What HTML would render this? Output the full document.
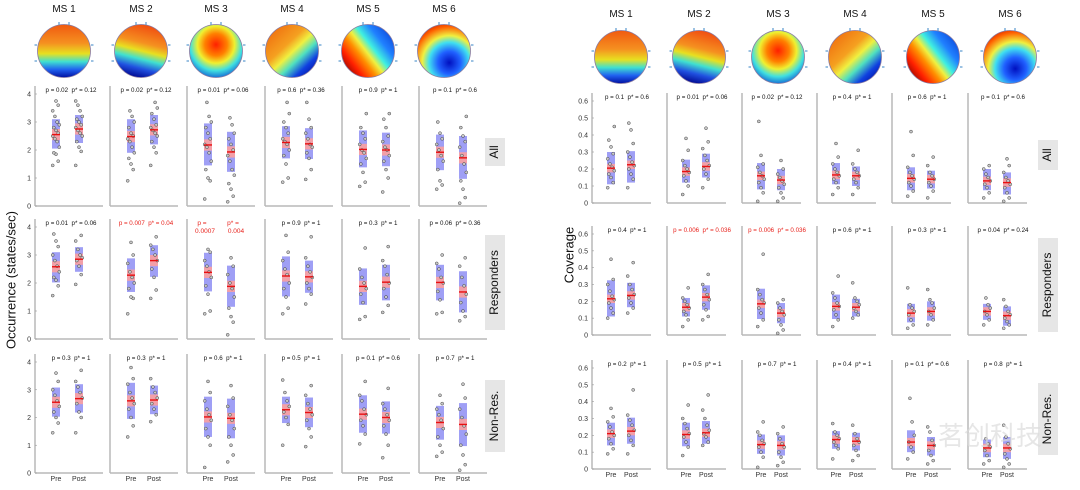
<!DOCTYPE html>
<html><head><meta charset="utf-8"><style>
html,body{margin:0;padding:0;background:#fff}
svg{display:block;font-family:"Liberation Sans","Noto Sans CJK SC",sans-serif}
</style></head><body>
<svg id="fig" width="1080" height="490" viewBox="0 0 1080 490" xmlns="http://www.w3.org/2000/svg">
<defs>
<linearGradient id="g1" x1="0" y1="0" x2="0" y2="1"><stop offset="0" stop-color="#f05a10"/><stop offset=".35" stop-color="#f59020"/><stop offset=".55" stop-color="#e8e020"/><stop offset=".7" stop-color="#40e0d0"/><stop offset=".85" stop-color="#2060f0"/><stop offset="1" stop-color="#0010a0"/></linearGradient>
<linearGradient id="g2" x1=".65" y1="0" x2=".4" y2="1"><stop offset="0" stop-color="#f04a10"/><stop offset=".35" stop-color="#f59020"/><stop offset=".5" stop-color="#e8e020"/><stop offset=".65" stop-color="#40e0d0"/><stop offset=".82" stop-color="#2050e0"/><stop offset="1" stop-color="#000890"/></linearGradient>
<radialGradient id="g3" cx=".5" cy=".38" r=".7"><stop offset="0" stop-color="#ff2000"/><stop offset=".3" stop-color="#ff8000"/><stop offset=".5" stop-color="#f0f030"/><stop offset=".7" stop-color="#40e0e0"/><stop offset="1" stop-color="#0030d0"/></radialGradient>
<linearGradient id="g4" x1=".1" y1=".1" x2=".9" y2=".95"><stop offset="0" stop-color="#f07010"/><stop offset=".35" stop-color="#f5a020"/><stop offset=".5" stop-color="#f0f040"/><stop offset=".65" stop-color="#50e0c0"/><stop offset=".82" stop-color="#1040e0"/><stop offset="1" stop-color="#0010a0"/></linearGradient>
<linearGradient id="g5" x1=".05" y1=".9" x2=".95" y2=".2"><stop offset="0" stop-color="#800000"/><stop offset=".2" stop-color="#ff2000"/><stop offset=".38" stop-color="#ff9000"/><stop offset=".5" stop-color="#f0f040"/><stop offset=".62" stop-color="#40f0e0"/><stop offset=".8" stop-color="#2080ff"/><stop offset="1" stop-color="#1050e0"/></linearGradient>
<radialGradient id="g6" cx=".6" cy=".72" r=".85"><stop offset="0" stop-color="#0010c0"/><stop offset=".25" stop-color="#2060ff"/><stop offset=".45" stop-color="#40e0f0"/><stop offset=".6" stop-color="#f0f040"/><stop offset=".8" stop-color="#ff6000"/><stop offset="1" stop-color="#c00000"/></radialGradient>
</defs>
<g id="root"></g>
</svg>
<script>
const msNames = ["MS 1","MS 2","MS 3","MS 4","MS 5","MS 6"];
const rowNames = ["All","Responders","Non-Res."];
const occMean = [[[2.55,2.75],[2.48,2.72],[2.18,1.93],[2.27,2.22],[2.02,2.0],[1.92,1.72]],
 [[2.58,2.85],[2.28,2.8],[2.38,1.88],[2.25,2.22],[1.88,2.03],[2.02,1.68]],
 [[2.55,2.68],[2.6,2.63],[2.02,1.97],[2.28,2.18],[2.12,2.0],[1.82,1.75]]];
const occLo = [[[2.05,2.25],[1.9,2.2],[1.45,1.22],[1.7,1.68],[1.38,1.42],[1.28,0.97]],
 [[2.02,2.4],[1.68,2.22],[1.7,1.15],[1.52,1.65],[1.22,1.38],[1.38,0.95]],
 [[2.03,2.18],[1.95,2.12],[1.3,1.25],[1.8,1.65],[1.45,1.42],[1.2,0.97]]];
const occHi = [[[3.1,3.25],[3.1,3.25],[2.95,2.65],[2.85,2.78],[2.7,2.62],[2.55,2.5]],
 [[3.1,3.28],[2.88,3.35],[3.08,2.62],[2.95,2.8],[2.52,2.65],[2.65,2.42]],
 [[3.08,3.2],[3.25,3.15],[2.75,2.68],[2.75,2.72],[2.8,2.58],[2.42,2.52]]];
const occPts = [
 [[[1.45,1.6,1.85,1.9,2.1,2.3,2.4,2.5,2.6,2.7,2.8,2.9,3.0,3.2,3.4,3.6,3.75],[1.45,1.95,2.1,2.3,2.5,2.6,2.7,2.8,2.9,3.0,3.1,3.2,3.4,3.6,3.75]],
  [[0.9,1.3,1.5,1.7,1.9,2.1,2.3,2.4,2.5,2.6,2.8,3.0,3.2,3.4],[1.45,1.9,2.1,2.3,2.5,2.6,2.7,2.8,2.9,3.1,3.3,3.5,3.7]],
  [[0.25,0.9,1.0,1.3,1.6,1.9,2.1,2.2,2.4,2.6,2.8,3.0,3.2,3.7],[0.15,0.35,0.6,0.8,1.1,1.3,1.6,1.8,2.0,2.2,2.4,2.6,2.9,3.15]],
  [[0.85,1.0,1.5,1.8,2.0,2.2,2.3,2.4,2.6,2.8,3.0,3.3,3.7],[0.95,1.3,1.7,1.9,2.1,2.2,2.4,2.6,2.8,3.1,3.7]],
  [[0.7,0.85,1.2,1.5,1.7,1.9,2.0,2.2,2.4,2.6,2.8,3.3],[0.5,1.0,1.3,1.6,1.8,2.0,2.1,2.3,2.5,2.8,3.1,3.3]],
  [[0.6,0.75,0.9,1.3,1.6,1.8,2.0,2.2,2.4,2.6,3.0],[0.1,0.3,0.6,0.9,1.2,1.5,1.8,2.1,2.3,2.5,2.8,3.2]]],
 [[[1.55,1.9,2.1,2.2,2.4,2.6,2.8,3.0,3.3,3.5,3.75],[1.95,2.3,2.6,2.8,2.9,3.0,3.2,3.5,3.7]],
  [[0.9,1.45,1.5,1.8,2.0,2.2,2.4,2.7,3.0,3.45],[1.45,1.75,2.2,2.5,2.8,3.0,3.2,3.35,3.65]],
  [[0.9,1.0,1.6,1.9,2.2,2.4,2.6,2.8,3.1,3.2],[0.15,0.6,0.8,1.1,1.5,1.8,2.0,2.3,2.6,2.9]],
  [[0.9,1.1,1.5,1.8,2.0,2.3,2.5,2.8,3.1,3.7],[1.25,1.6,1.8,2.0,2.2,2.4,2.6,2.9,3.65]],
  [[0.7,0.8,1.3,1.6,1.8,2.0,2.2,2.5,3.25],[0.95,1.2,1.5,1.8,2.0,2.3,2.6,2.8,3.3]],
  [[0.9,0.95,1.4,1.7,2.0,2.2,2.5,2.7,3.0],[0.65,0.8,1.0,1.3,1.6,1.9,2.2,2.6,2.9]]],
 [[[1.45,1.8,2.0,2.2,2.4,2.6,2.8,3.0,3.3,3.6],[1.45,2.0,2.2,2.5,2.7,2.9,3.1,3.3,3.7]],
  [[1.3,1.7,2.0,2.3,2.5,2.7,2.9,3.2,3.4,3.8],[1.85,2.1,2.3,2.5,2.7,2.9,3.1,3.4]],
  [[0.2,1.0,1.3,1.6,1.9,2.1,2.3,2.6,2.9,3.3],[0.4,0.65,1.0,1.3,1.6,1.9,2.1,2.4,2.7,3.15]],
  [[1.0,1.75,2.0,2.2,2.4,2.6,2.9,3.35],[0.95,1.3,1.6,1.9,2.1,2.3,2.5,2.8,3.15]],
  [[1.05,1.4,1.7,1.9,2.1,2.3,2.6,2.8,3.3],[0.55,1.0,1.4,1.7,1.9,2.1,2.3,2.5,3.05]],
  [[0.6,0.75,1.0,1.3,1.6,1.9,2.1,2.3,2.5,2.8],[0.1,0.3,0.65,1.0,1.4,1.7,2.0,2.3,2.7,3.2]]]];
const occP = [[["p = 0.02","p* = 0.12"],["p = 0.02","p* = 0.12"],["p = 0.01","p* = 0.06"],["p = 0.6","p* = 0.36"],["p = 0.9","p* = 1"],["p = 0.1","p* = 0.6"]],
 [["p = 0.01","p* = 0.06"],["p = 0.007","p* = 0.04"],["p =\n0.0007","p* =\n0.004"],["p = 0.9","p* = 1"],["p = 0.3","p* = 1"],["p = 0.06","p* = 0.36"]],
 [["p = 0.3","p* = 1"],["p = 0.3","p* = 1"],["p = 0.6","p* = 1"],["p = 0.5","p* = 1"],["p = 0.1","p* = 0.6"],["p = 0.7","p* = 1"]]];
const occSig = [[0,0,0,0,0,0],[0,1,1,0,0,0],[0,0,0,0,0,0]];
const covMean = [[[0.205,0.225],[0.185,0.215],[0.16,0.135],[0.165,0.16],[0.145,0.14],[0.13,0.12]],
 [[0.215,0.235],[0.165,0.225],[0.185,0.13],[0.17,0.165],[0.13,0.14],[0.14,0.115]],
 [[0.21,0.225],[0.205,0.215],[0.145,0.14],[0.175,0.165],[0.16,0.14],[0.125,0.125]]];
const covLo = [[[0.11,0.12],[0.12,0.15],[0.08,0.075],[0.11,0.1],[0.075,0.085],[0.075,0.05]],
 [[0.11,0.165],[0.11,0.15],[0.095,0.07],[0.095,0.11],[0.075,0.085],[0.09,0.055]],
 [[0.14,0.15],[0.135,0.15],[0.09,0.08],[0.12,0.11],[0.1,0.08],[0.07,0.06]]];
const covHi = [[[0.3,0.305],[0.255,0.29],[0.235,0.2],[0.235,0.215],[0.21,0.19],[0.2,0.18]],
 [[0.325,0.31],[0.22,0.295],[0.275,0.19],[0.24,0.215],[0.185,0.2],[0.185,0.17]],
 [[0.275,0.305],[0.275,0.285],[0.205,0.2],[0.225,0.215],[0.23,0.19],[0.175,0.19]]];
const covPts = [
 [[[0.09,0.12,0.15,0.17,0.19,0.21,0.23,0.26,0.29,0.33,0.37,0.45],[0.09,0.14,0.17,0.2,0.22,0.24,0.27,0.3,0.35,0.43,0.47]],
  [[0.05,0.1,0.13,0.16,0.18,0.2,0.22,0.25,0.31,0.38],[0.09,0.14,0.17,0.2,0.22,0.25,0.28,0.32,0.36,0.44]],
  [[0.01,0.06,0.09,0.12,0.14,0.16,0.18,0.21,0.23,0.28,0.48],[0.01,0.03,0.06,0.09,0.11,0.13,0.15,0.17,0.2,0.25]],
  [[0.05,0.09,0.12,0.14,0.16,0.18,0.2,0.23,0.27,0.35],[0.05,0.09,0.12,0.14,0.16,0.18,0.2,0.23,0.31]],
  [[0.04,0.07,0.1,0.12,0.14,0.16,0.18,0.21,0.28,0.42],[0.03,0.07,0.1,0.12,0.14,0.16,0.18,0.22,0.27]],
  [[0.03,0.06,0.09,0.11,0.13,0.15,0.17,0.2,0.22],[0.01,0.03,0.06,0.09,0.11,0.13,0.15,0.18,0.22,0.26]]],
 [[[0.1,0.13,0.16,0.19,0.21,0.23,0.26,0.3,0.33,0.45],[0.13,0.16,0.19,0.22,0.24,0.27,0.3,0.35,0.43]],
  [[0.05,0.09,0.12,0.14,0.16,0.18,0.2,0.22,0.28],[0.09,0.11,0.15,0.18,0.21,0.24,0.27,0.3,0.36]],
  [[0.05,0.09,0.13,0.16,0.19,0.21,0.24,0.27,0.48],[0.01,0.03,0.06,0.09,0.12,0.14,0.16,0.19,0.21]],
  [[0.05,0.09,0.12,0.15,0.17,0.19,0.22,0.25,0.35],[0.1,0.12,0.14,0.16,0.18,0.2,0.22,0.31]],
  [[0.04,0.06,0.09,0.12,0.14,0.16,0.18,0.28],[0.06,0.09,0.12,0.14,0.16,0.19,0.21,0.27]],
  [[0.06,0.09,0.12,0.14,0.16,0.18,0.22],[0.04,0.06,0.08,0.1,0.12,0.14,0.17,0.21]]],
 [[[0.09,0.12,0.15,0.18,0.2,0.22,0.25,0.28,0.31,0.36],[0.09,0.14,0.17,0.2,0.23,0.26,0.29,0.32,0.47]],
  [[0.08,0.13,0.16,0.19,0.21,0.24,0.27,0.3,0.38],[0.14,0.16,0.19,0.21,0.23,0.26,0.3,0.35,0.44]],
  [[0.01,0.07,0.1,0.13,0.15,0.17,0.2,0.22,0.28],[0.02,0.04,0.07,0.1,0.13,0.15,0.18,0.21,0.25]],
  [[0.06,0.12,0.14,0.16,0.18,0.2,0.22,0.27],[0.05,0.08,0.11,0.14,0.16,0.18,0.21,0.26]],
  [[0.06,0.1,0.13,0.16,0.2,0.28,0.42],[0.03,0.05,0.08,0.11,0.14,0.17,0.22,0.25]],
  [[0.03,0.05,0.08,0.11,0.13,0.15,0.18],[0.01,0.03,0.06,0.09,0.12,0.15,0.19,0.26]]]];
const covP = [[["p = 0.1","p* = 0.6"],["p = 0.01","p* = 0.06"],["p = 0.02","p* = 0.12"],["p = 0.4","p* = 1"],["p = 0.6","p* = 1"],["p = 0.1","p* = 0.6"]],
 [["p = 0.4","p* = 1"],["p = 0.006","p* = 0.036"],["p = 0.006","p* = 0.036"],["p = 0.6","p* = 1"],["p = 0.3","p* = 1"],["p = 0.04","p* = 0.24"]],
 [["p = 0.2","p* = 1"],["p = 0.5","p* = 1"],["p = 0.7","p* = 1"],["p = 0.4","p* = 1"],["p = 0.1","p* = 0.6"],["p = 0.8","p* = 1"]]];
const covSig = [[0,0,0,0,0,0],[0,1,1,0,0,0],[0,0,0,0,0,0]];
const occTicks = ["0","1","2","3","4"];
const covTicks = ["0","0.1","0.2","0.3","0.4","0.5","0.6"];

const NS="http://www.w3.org/2000/svg";
const root=document.getElementById('root');
function mk(tag,attrs,parent){const e=document.createElementNS(NS,tag);for(const k in attrs)e.setAttribute(k,attrs[k]);(parent||root).appendChild(e);return e;}
function txt(x,y,s,size,parent,extra){const t=mk('text',Object.assign({x:x,y:y,'font-size':size,'text-anchor':'middle',fill:'#111'},extra||{}),parent);t.textContent=s;return t;}

const panels=[
 {name:'occurrence',colX:[35,110,187,265,342,419],w:68,pre:21,post:44,pOff:3.5,y0:[206,339,473],ytop:[94,227,362],max:4,ticks:occTicks,mean:occMean,lo:occLo,hi:occHi,pts:occPts,p:occP,sig:occSig,sem:0.2,
  topo:[64,141,216,292,368,444],topoY:51,titleY:12,labX:485,labBox:[[138,28],[235,95],[380,72]],ylab:'Occurrence (states/sec)',ylabX:12,ylabY:280},
 {name:'coverage',colX:[592,667,742,817,892,968],w:59,pre:19,post:39,pOff:6,y0:[203,335,469],ytop:[101,234,368],max:0.6,ticks:covTicks,mean:covMean,lo:covLo,hi:covHi,pts:covPts,p:covP,sig:covSig,sem:0.025,
  topo:[621,699,778,855,933,1010],topoY:57,titleY:17,labX:1038,labBox:[[140,30],[238,94],[383,72]],ylab:'Coverage',ylabX:570,ylabY:255}
];

panels.forEach(P=>{
 const pg=mk('g',{});
 
 
 const yl=txt(P.ylabX,P.ylabY,P.ylab,13,pg,{transform:'rotate(-90 '+P.ylabX+' '+P.ylabY+')','dominant-baseline':'middle'});
 
 
 for(let m=0;m<6;m++){
  const cx=P.topo[m];
  const t=txt(cx,P.titleY,msNames[m],10,pg);
  
  
  const c=mk('circle',{cx:cx,cy:P.topoY,r:26.5,fill:'url(#g'+(m+1)+')',stroke:'#8a7aa0','stroke-width':0.8},pg);
  
  
  [[-5,-27],[5,-27]].forEach(d=>mk('line',{x1:cx+d[0],y1:P.topoY-26,x2:cx+d[0],y2:P.topoY-29,stroke:'#5a9ad0','stroke-width':1.2},pg));
  [[-27,-6],[-27,10],[27,-6],[27,10]].forEach(d=>mk('line',{x1:cx+d[0],y1:P.topoY+d[1],x2:cx+d[0]+(d[0]<0?-2.5:2.5),y2:P.topoY+d[1],stroke:'#5a9ad0','stroke-width':1.2},pg));
 }
 for(let r=0;r<3;r++){
  const y0=P.y0[r], yt=P.ytop[r];
  const ys=v=>y0-(v/P.max)*(y0-yt);
  const lb=P.labBox[r];
  mk('rect',{x:P.labX,y:lb[0],width:20,height:lb[1],fill:'#e6e6e6'},pg);
  const lcx=P.labX+10, lcy=lb[0]+lb[1]/2;
  const rl=txt(lcx,lcy,rowNames[r],12,pg,{transform:'rotate(-90 '+lcx+' '+lcy+')','dominant-baseline':'middle'});
  
  
  for(let m=0;m<6;m++){
   const x0=P.colX[m];
   const g=mk('g',{},pg);
   
   
   mk('line',{x1:x0,y1:yt-8,x2:x0,y2:y0,stroke:'#b8b8b8','stroke-width':1.5},g);
   mk('line',{x1:x0,y1:y0,x2:x0+P.w,y2:y0,stroke:'#b8b8b8','stroke-width':1.5},g);
   if(m===0){
    P.ticks.forEach(tl=>{
     const v=parseFloat(tl);
     mk('line',{x1:x0,y1:ys(v),x2:x0+2,y2:ys(v),stroke:'#999','stroke-width':0.6},g);
     txt(x0-4,ys(v)+2.5,tl,7,g,{'text-anchor':'end',fill:'#333'});
    });
   }
   if(r===2){
    txt(x0+P.pre,y0+8,'Pre',7,g,{fill:'#333'});
    txt(x0+P.post,y0+8,'Post',7,g,{fill:'#333'});
   }
   const col=P.sig[r][m]?'#e8201a':'#111';
   const pl=P.p[r][m];
   if(pl[0].indexOf('\n')>=0){
    const xs=[x0+P.pre-6, x0+P.post+2];
    pl.forEach((s,k)=>{
     s.split('\n').forEach((ps,j)=>{
      const tt=txt(xs[k]+(j?3:0),yt-2+j*8,ps,6.5,g,{fill:col});
      
      
     });
    });
   } else {
    const tt=txt(x0+(P.pre+P.post)/2+P.pOff,yt-2,pl[0]+'\u00a0\u00a0'+pl[1],6.2,g,{fill:col});
    
    
   }
   [P.pre,P.post].forEach((off,k)=>{
    const cx=x0+off;
    const mean=P.mean[r][m][k], lo=P.lo[r][m][k], hi=P.hi[r][m][k];
    const b=mk('rect',{x:cx-4,y:ys(hi),width:8,height:ys(lo)-ys(hi),fill:'#9f9ff5'},g);
    
    
    mk('rect',{x:cx-4,y:ys(mean+P.sem),width:8,height:ys(mean-P.sem)-ys(mean+P.sem),fill:'#f2a0a8'},g);
    P.pts[r][m][k].forEach((v,i)=>{
     const jx=((i*5)%7-3)*1.1;
     const pt=mk('circle',{cx:cx+jx,cy:ys(v),r:1.5,fill:'#c8c8c8',stroke:'#333','stroke-width':0.45},g);
     
     
    });
    const ml=mk('line',{x1:cx-4,y1:ys(mean),x2:cx+4,y2:ys(mean),stroke:'#e81010','stroke-width':1.4},g);
    
    
   });
  }
 }
});
const wm=txt(990,445,'茗创科技',26,root,{fill:'#dcdcdc','fill-opacity':0.7,'font-family':'Noto Sans CJK SC, sans-serif'});


</script>
</body></html>
